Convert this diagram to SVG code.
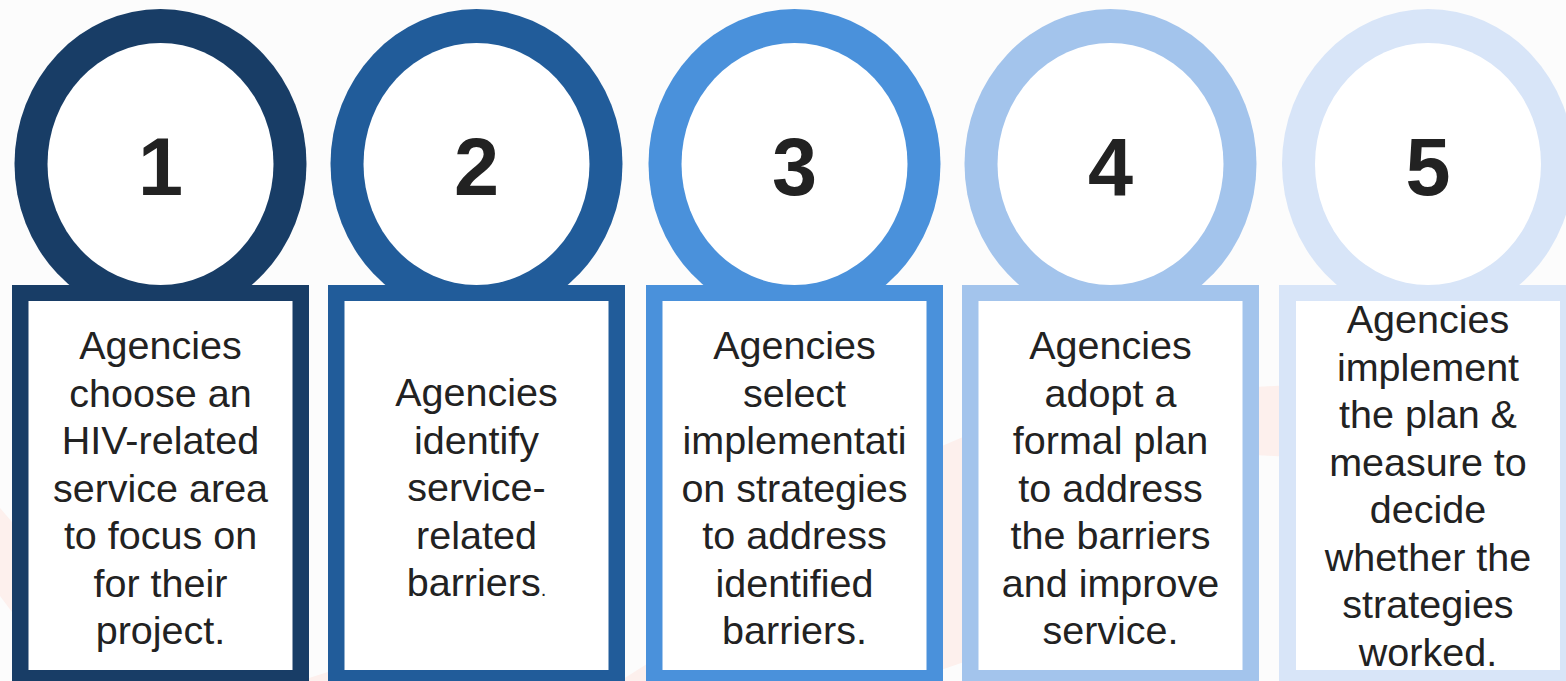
<svg xmlns="http://www.w3.org/2000/svg" width="1566" height="681" viewBox="0 0 1566 681">
  <defs>
    <style>
      .label { font-family: "Liberation Sans", Arial, sans-serif; font-size: 39.5px; fill: #222222; text-anchor: middle; }
      .num { font-family: "Liberation Sans", Arial, sans-serif; font-size: 81px; font-weight: bold; fill: #222222; text-anchor: middle; }
      .hole { fill: #ffffff; }
      .wash { fill: #fdf0ed; }
    </style>
    <clipPath id="clip5">
      <rect x="1296" y="301" width="264" height="369"/>
    </clipPath>
  </defs>

  <!-- page -->
  <rect x="0" y="0" width="1566" height="681" fill="#fcfcfc"/>

  <!-- faint wash behind the steps -->
  <g id="wash">
    <polygon class="wash" points="0,508 12,522 12,612 0,596"/>
    <polygon class="wash" points="300,681 340,668 340,681"/>
    <polygon class="wash" points="620,681 650,662 650,681"/>
    <polygon class="wash" points="935,449 970,434 970,660 935,672"/>
    <polygon class="wash" points="1255,387 1290,385 1290,457 1255,455"/>
  </g>

  <!-- step 1 -->
  <g id="step1">
    <ellipse cx="160.5" cy="164" rx="146" ry="155" fill="#183d66"/>
    <ellipse class="hole" cx="160.5" cy="164" rx="113" ry="121"/>
    <rect x="12" y="285" width="297" height="400" fill="#183d66"/>
    <rect class="hole" x="28.5" y="301" width="264" height="369"/>
    <text class="num" x="160.5" y="195">1</text>
    <text class="label" x="160.5" y="359">Agencies</text>
    <text class="label" x="160.5" y="406.5">choose an</text>
    <text class="label" x="160.5" y="454">HIV-related</text>
    <text class="label" x="160.5" y="501.5">service area</text>
    <text class="label" x="160.5" y="549">to focus on</text>
    <text class="label" x="160.5" y="596.5">for their</text>
    <text class="label" x="160.5" y="644">project.</text>
  </g>

  <!-- step 2 -->
  <g id="step2">
    <ellipse cx="476.5" cy="164" rx="146" ry="155" fill="#215c9a"/>
    <ellipse class="hole" cx="476.5" cy="164" rx="113" ry="121"/>
    <rect x="328" y="285" width="297" height="400" fill="#215c9a"/>
    <rect class="hole" x="344.5" y="301" width="264" height="369"/>
    <text class="num" x="476.5" y="195">2</text>
    <text class="label" x="476.5" y="406">Agencies</text>
    <text class="label" x="476.5" y="453.5">identify</text>
    <text class="label" x="476.5" y="501">service-</text>
    <text class="label" x="476.5" y="548.5">related</text>
    <text class="label" x="476.5" y="596">barriers<tspan font-size="20">.</tspan></text>
  </g>

  <!-- step 3 -->
  <g id="step3">
    <ellipse cx="794.5" cy="164" rx="146" ry="155" fill="#4a91db"/>
    <ellipse class="hole" cx="794.5" cy="164" rx="113" ry="121"/>
    <rect x="646" y="285" width="297" height="400" fill="#4a91db"/>
    <rect class="hole" x="662.5" y="301" width="264" height="369"/>
    <text class="num" x="794.5" y="195">3</text>
    <text class="label" x="794.5" y="359">Agencies</text>
    <text class="label" x="794.5" y="406.5">select</text>
    <text class="label" x="794.5" y="454">implementati</text>
    <text class="label" x="794.5" y="501.5">on strategies</text>
    <text class="label" x="794.5" y="549">to address</text>
    <text class="label" x="794.5" y="596.5">identified</text>
    <text class="label" x="794.5" y="644">barriers.</text>
  </g>

  <!-- step 4 -->
  <g id="step4">
    <ellipse cx="1110.5" cy="164" rx="146" ry="155" fill="#a3c4ec"/>
    <ellipse class="hole" cx="1110.5" cy="164" rx="113" ry="121"/>
    <rect x="962" y="285" width="297" height="400" fill="#a3c4ec"/>
    <rect class="hole" x="978.5" y="301" width="264" height="369"/>
    <text class="num" x="1110.5" y="195">4</text>
    <text class="label" x="1110.5" y="359">Agencies</text>
    <text class="label" x="1110.5" y="406.5">adopt a</text>
    <text class="label" x="1110.5" y="454">formal plan</text>
    <text class="label" x="1110.5" y="501.5">to address</text>
    <text class="label" x="1110.5" y="549">the barriers</text>
    <text class="label" x="1110.5" y="596.5">and improve</text>
    <text class="label" x="1110.5" y="644">service.</text>
  </g>

  <!-- step 5 (text runs to the box edge and is cut there) -->
  <g id="step5">
    <ellipse cx="1428" cy="164" rx="146" ry="155" fill="#d8e5f8"/>
    <ellipse class="hole" cx="1428" cy="164" rx="113" ry="121"/>
    <rect x="1279" y="285" width="297" height="400" fill="#d8e5f8"/>
    <rect class="hole" x="1296" y="301" width="264" height="369"/>
    <text class="num" x="1428" y="195">5</text>
    <g clip-path="url(#clip5)">
      <text class="label" x="1428" y="333">Agencies</text>
      <text class="label" x="1428" y="380.5">implement</text>
      <text class="label" x="1428" y="428">the plan &amp;</text>
      <text class="label" x="1428" y="475.5">measure to</text>
      <text class="label" x="1428" y="523">decide</text>
      <text class="label" x="1428" y="570.5">whether the</text>
      <text class="label" x="1428" y="618">strategies</text>
      <text class="label" x="1428" y="665.5">worked.</text>
    </g>
  </g>

  <!-- no connectors between the steps -->
  <g id="connectors"/>
</svg>
